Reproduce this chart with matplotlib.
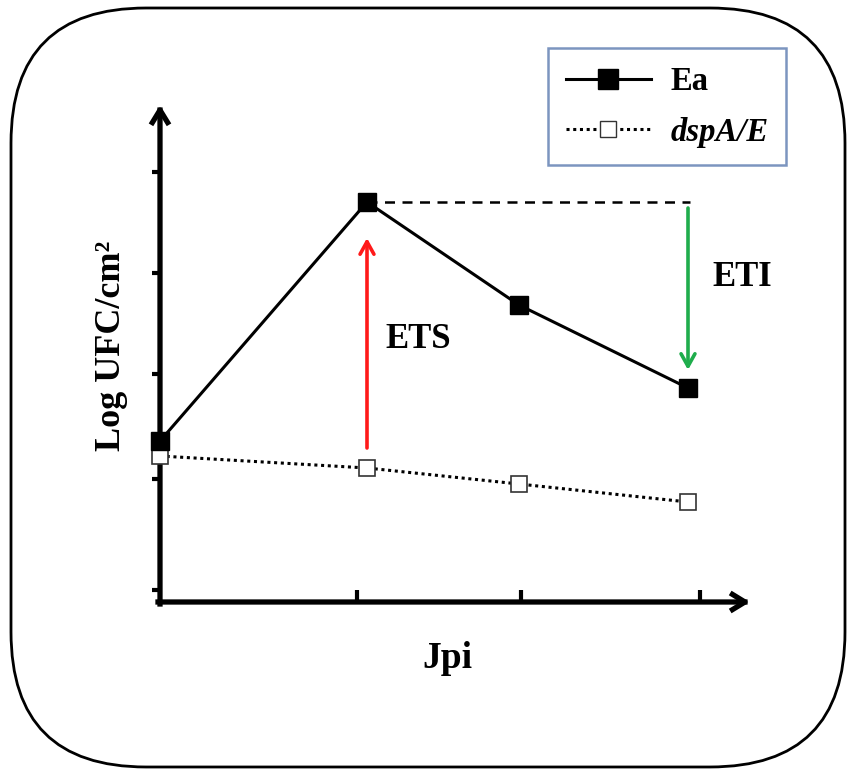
import matplotlib
matplotlib.use("Agg")
import matplotlib.pyplot as plt
from matplotlib.patches import FancyBboxPatch
from matplotlib.lines import Line2D
from matplotlib.transforms import IdentityTransform

# ---- data (schematic units) ----
days = [0.0, 2.07, 3.59, 5.28]
ea_values = [1.61, 4.0, 2.97, 2.14]
dspa_values = [1.46, 1.34, 1.18, 1.0]
x_ticks = [1.97, 3.61, 5.40]
y_ticks = [0.12, 1.23, 2.28, 3.29, 4.30]
series_labels = ["Ea", "dspA/E"]
x_label = "Jpi"
y_label = "Log UFC/cm²"
ets_text = "ETS"
eti_text = "ETI"

plt.rcParams['font.family'] = ['Liberation Serif', 'DejaVu Serif']

W, H = 848, 771
fig = plt.figure(figsize=(W / 100, H / 100), dpi=100)

# rounded frame around everything
frame = FancyBboxPatch((11, 4), 834, 759,
                       boxstyle="round,pad=0,rounding_size=135",
                       transform=IdentityTransform(), fill=False,
                       edgecolor="black", linewidth=2.0)
fig.patches.append(frame)

ax = fig.add_axes([160 / W, 169 / H, 595 / W, 502 / H])
ax.set_xlim(0, 5.95)
ax.set_ylim(0, 5.02)
for s in ax.spines.values():
    s.set_visible(False)
ax.patch.set_visible(False)

# axes with arrow heads
arrow_kw = dict(arrowstyle='->,head_length=0.9,head_width=0.55', lw=3.8,
                color='black', shrinkA=0, shrinkB=0, capstyle='projecting')
ax.annotate("", xy=(5.9, 0), xytext=(-0.02, 0), arrowprops=arrow_kw,
            annotation_clip=False, zorder=2)
ax.annotate("", xy=(0, 4.97), xytext=(0, -0.02), arrowprops=arrow_kw,
            annotation_clip=False, zorder=2)

ax.set_xticks(x_ticks)
ax.set_yticks(y_ticks)
ax.set_xticklabels([])
ax.set_yticklabels([])
ax.tick_params(axis='x', direction='in', length=9, width=3, color='black')
ax.tick_params(axis='y', direction='out', length=6, width=3, color='black', pad=0)

# reference dashed line and arrows
ax.plot([days[1], days[3] + 0.02], [ea_values[1], ea_values[1]],
        linestyle=(0, (4, 3)), color='black', lw=1.8, zorder=3)
ax.annotate("", xy=(days[1], ea_values[1] - 0.36), xytext=(days[1], dspa_values[1] + 0.2),
            arrowprops=dict(arrowstyle='->,head_length=0.9,head_width=0.5',
                            lw=2.6, color='#ff1a1a', shrinkA=0, shrinkB=0), zorder=3)
ax.annotate("", xy=(days[3], ea_values[3] + 0.18), xytext=(days[3], ea_values[1] - 0.06),
            arrowprops=dict(arrowstyle='->,head_length=0.9,head_width=0.5',
                            lw=2.6, color='#1fad4c', shrinkA=0, shrinkB=0), zorder=3)

# series
l_ea, = ax.plot(days, ea_values, color='black', lw=2.2, marker='s', markersize=13,
                markerfacecolor='black', markeredgecolor='black', zorder=5,
                clip_on=False, label=series_labels[0])
l_dspa, = ax.plot(days, dspa_values, color='black', lw=2.2, linestyle=(0, (1, 1.2)),
                  marker='s', markersize=11, markerfacecolor='white',
                  markeredgecolor='#333333', markeredgewidth=1.2, zorder=4,
                  clip_on=False, label=series_labels[1])

# text labels
ax.text(2.25, 2.62, ets_text, fontsize=25, fontweight='bold', ha='left', va='center')
ax.text(5.52, 3.24, eti_text, fontsize=25, fontweight='bold', ha='left', va='center')
fig.text(447 / W, 1 - 658 / H, x_label, fontsize=27, fontweight='bold',
         ha='center', va='center')
fig.text(111 / W, 1 - 346 / H, y_label, fontsize=26, fontweight='bold',
         ha='center', va='center', rotation=90)

# legend
h_ea = Line2D([], [], color='black', lw=2.2, marker='s', markersize=14,
              markerfacecolor='black')
h_dspa = Line2D([], [], color='black', lw=2.2, linestyle=(0, (1, 1.2)), marker='s',
                markersize=12, markerfacecolor='white', markeredgecolor='#333333')
leg = fig.legend([h_ea, h_dspa], series_labels, loc='upper left',
                 bbox_to_anchor=(548 / W, 1 - 48 / H), frameon=True, fancybox=False,
                 handlelength=2.6, handletextpad=0.6, labelspacing=0.6,
                 borderpad=0.55, borderaxespad=0, prop={'size': 23.5, 'weight': 'bold'})
leg.get_frame().set_edgecolor('#5b7bb0')
leg.get_frame().set_linewidth(1.8)
texts = leg.get_texts()
texts[1].set_fontstyle('italic')

fig.savefig("out.png", dpi=100)
